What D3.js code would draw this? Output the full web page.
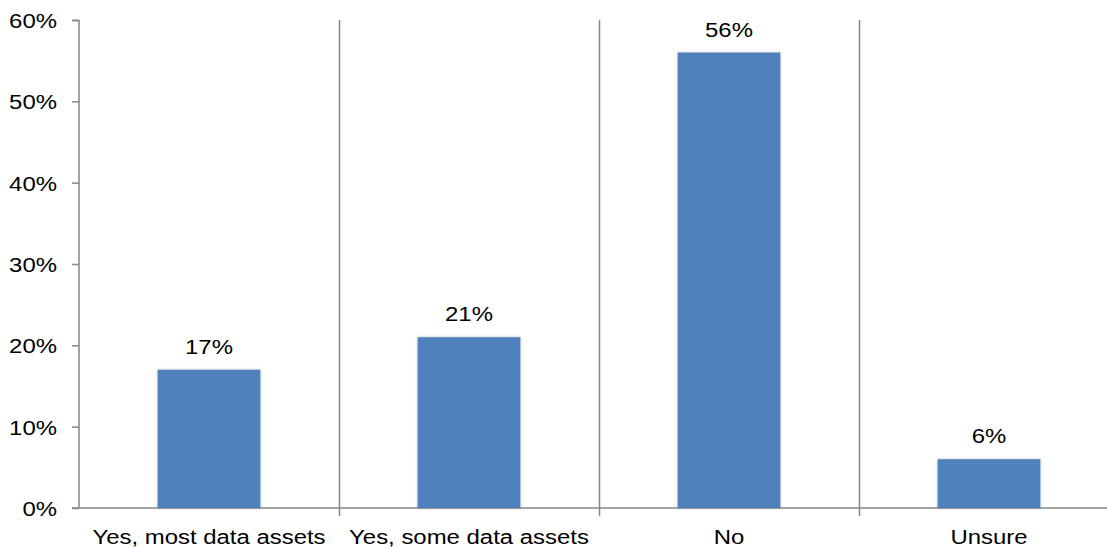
<!DOCTYPE html>
<html>
<head>
<meta charset="utf-8">
<script src="https://cdn.jsdelivr.net/npm/d3@7"></script>
<style>
  body { margin: 0; background: #fff; }
  svg { display: block; font-family: "Liberation Sans", Arial, sans-serif; }
</style>
</head>
<body>
<div id="chart"></div>
<script>
// Chart data
const categories = [ 'Yes, most data assets', 'Yes, some data assets', 'No', 'Unsure' ];
const values = [ 17, 21, 56, 6 ];
const y_ticks = [ 0, 10, 20, 30, 40, 50, 60 ];

const margin = { top: 20, left: 79 };
const plot_width = 1040;
const plot_height = 488;
const axis_color = '#868686';
const font_size = 21;
// The source renders its Arial a little wide, so stretch text horizontally.
const stretch = 'scale(1.14,1)';

const svg = d3.select( '#chart' )
  .append( 'svg' )
    .attr( 'width', 1107 )
    .attr( 'height', 548 );

// Soft shadow round the bars
const defs = svg.append( 'defs' );
const filter = defs.append( 'filter' )
  .attr( 'id', 'shadow' )
  .attr( 'x', '-10%' ).attr( 'y', '-10%' )
  .attr( 'width', '120%' ).attr( 'height', '120%' );
filter.append( 'feDropShadow' )
  .attr( 'dx', 0 ).attr( 'dy', 0 )
  .attr( 'stdDeviation', 1.5 )
  .attr( 'flood-color', '#000' )
  .attr( 'flood-opacity', 0.25 );

const g = svg.append( 'g' )
  .attr( 'transform', 'translate(' + margin.left + ',' + margin.top + ')' );

const x_scale = d3.scaleBand()
  .domain( categories )
  .range( [ 0, plot_width ] )
  .paddingInner( 0.605 )
  .paddingOuter( 0.3025 );

const band = d3.scaleBand()
  .domain( categories )
  .range( [ 0, plot_width ] );

const y_scale = d3.scaleLinear()
  .domain( [ 0, 60 ] )
  .range( [ plot_height, 0 ] );

// Category separators (run down past the axis like tick marks)
g.append( 'g' )
  .selectAll( 'line' )
  .data( categories.slice( 1 ) )
  .enter()
  .append( 'line' )
    .attr( 'x1', d => Math.round( band( d ) ) + 0.5 )
    .attr( 'x2', d => Math.round( band( d ) ) + 0.5 )
    .attr( 'y1', 0 )
    .attr( 'y2', plot_height + 8 )
    .attr( 'stroke', axis_color )
    .attr( 'stroke-width', 1.5 );

// Y axis
const y_axis = g.append( 'g' )
  .call( d3.axisLeft( y_scale ).tickValues( y_ticks ).tickSize( 7 ).tickFormat( d => d + '%' ) );
y_axis.selectAll( 'path, line' ).attr( 'stroke', axis_color ).attr( 'stroke-width', 1.5 );
y_axis.select( '.domain' ).attr( 'd', 'M-7,0.5H0V' + plot_height );
y_axis.selectAll( 'text' )
  .attr( 'x', null )
  .attr( 'dy', '0.35em' )
  .attr( 'transform', 'translate(-22,0) ' + stretch )
  .attr( 'font-size', font_size )
  .attr( 'fill', '#000' )
  .attr( 'font-family', '"Liberation Sans", Arial, sans-serif' );

// X axis line
g.append( 'line' )
  .attr( 'x1', -7 )
  .attr( 'x2', plot_width )
  .attr( 'y1', plot_height )
  .attr( 'y2', plot_height )
  .attr( 'stroke', axis_color )
  .attr( 'stroke-width', 1.5 );

// Bars
g.append( 'g' )
  .selectAll( 'rect' )
  .data( values )
  .enter()
  .append( 'rect' )
    .attr( 'x', ( d, i ) => x_scale( categories[ i ] ) )
    .attr( 'y', d => y_scale( d ) )
    .attr( 'width', x_scale.bandwidth() )
    .attr( 'height', d => plot_height - y_scale( d ) )
    .attr( 'fill', '#4F81BD' )
    .attr( 'filter', 'url(#shadow)' );

// Value labels
g.append( 'g' )
  .selectAll( 'text' )
  .data( values )
  .enter()
  .append( 'text' )
    .attr( 'transform', ( d, i ) => 'translate(' + ( x_scale( categories[ i ] ) + x_scale.bandwidth() / 2 ) + ',' + ( y_scale( d ) - 16 ) + ') ' + stretch )
    .attr( 'text-anchor', 'middle' )
    .attr( 'font-size', font_size )
    .text( d => d + '%' );

// Category labels
g.append( 'g' )
  .selectAll( 'text' )
  .data( categories )
  .enter()
  .append( 'text' )
    .attr( 'transform', d => 'translate(' + ( band( d ) + band.bandwidth() / 2 ) + ',' + ( plot_height + 36 ) + ') ' + stretch )
    .attr( 'text-anchor', 'middle' )
    .attr( 'font-size', font_size )
    .text( d => d );
</script>
</body>
</html>
